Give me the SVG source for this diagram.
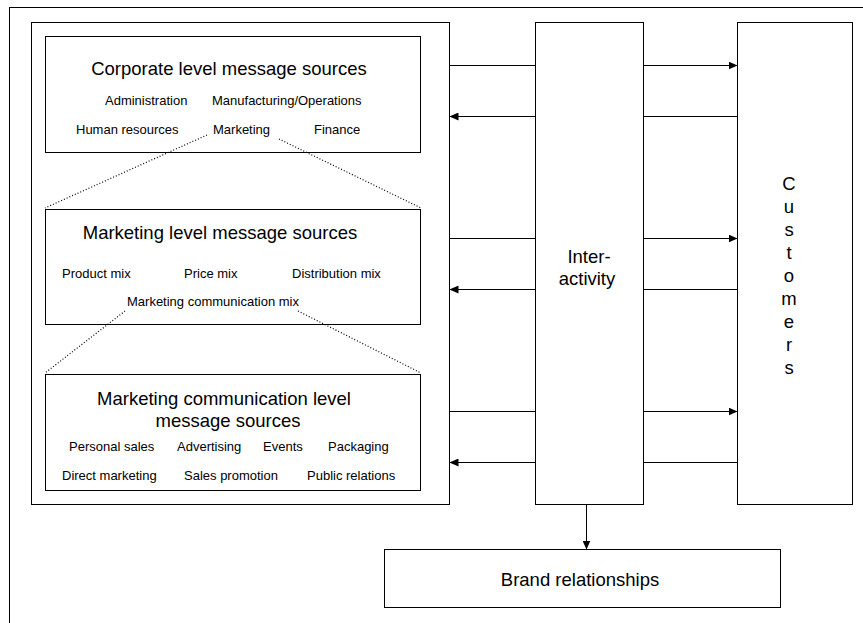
<svg xmlns="http://www.w3.org/2000/svg" width="863" height="623" viewBox="0 0 863 623">
<style>
.box{fill:#fff;stroke:#000;stroke-width:1}
.t{font-family:"Liberation Sans",Arial,sans-serif;fill:#000}
.big{font-size:18.5px}
.sm{font-size:13px}
.c{text-anchor:middle}
.ln{stroke:#000;stroke-width:1;fill:none}
.dot{stroke:#000;stroke-width:1.2;fill:none;stroke-dasharray:1 2}
</style>
<defs>
<marker id="ah" viewBox="0 0 9 8" refX="9" refY="4" markerWidth="9" markerHeight="8" markerUnits="userSpaceOnUse" orient="auto">
<path d="M0,0 L9,4 L0,8 z" fill="#000"/>
</marker>
</defs>
<rect width="863" height="623" fill="#fff"/>
<g id="frame"><rect class="box" x="9.5" y="7.5" width="880" height="640"/></g>
<g id="sources"><rect class="box" x="31.5" y="22.5" width="418" height="482"/></g>
<g id="corporate">
<rect class="box" x="45.5" y="36.5" width="375" height="116"/>
<text class="t big c" x="229" y="75">Corporate level message sources</text>
<text class="t sm" x="105" y="105">Administration</text>
<text class="t sm" x="212" y="105">Manufacturing/Operations</text>
<text class="t sm" x="76" y="134">Human resources</text>
<text class="t sm" x="213" y="134">Marketing</text>
<text class="t sm" x="314" y="134">Finance</text>
</g>
<g id="marketing">
<rect class="box" x="45.5" y="209.5" width="375" height="115"/>
<text class="t big c" x="220" y="239">Marketing level message sources</text>
<text class="t sm" x="62" y="278">Product mix</text>
<text class="t sm" x="184" y="278">Price mix</text>
<text class="t sm" x="292" y="278">Distribution mix</text>
<text class="t sm" x="127" y="306">Marketing communication mix</text>
</g>
<g id="marcom">
<rect class="box" x="45.5" y="374.5" width="375" height="116"/>
<text class="t big c" x="224" y="405">Marketing communication level</text>
<text class="t big c" x="228" y="427">message sources</text>
<text class="t sm" x="69" y="451">Personal sales</text>
<text class="t sm" x="177" y="451">Advertising</text>
<text class="t sm" x="263" y="451">Events</text>
<text class="t sm" x="328" y="451">Packaging</text>
<text class="t sm" x="62" y="480">Direct marketing</text>
<text class="t sm" x="184" y="480">Sales promotion</text>
<text class="t sm" x="307" y="480">Public relations</text>
</g>
<g id="interactivity">
<rect class="box" x="535.5" y="22.5" width="108" height="482"/>
<text class="t big c" x="589" y="263">Inter-</text>
<text class="t big c" x="587" y="285">activity</text>
</g>
<g id="customers">
<rect class="box" x="737.5" y="22.5" width="115" height="482"/>
<g class="t big c">
<text x="789" y="190">C</text>
<text x="789" y="213">u</text>
<text x="789" y="236">s</text>
<text x="789" y="259">t</text>
<text x="789" y="282">o</text>
<text x="789" y="305">m</text>
<text x="789" y="328">e</text>
<text x="789" y="351">r</text>
<text x="789" y="374">s</text>
</g>
</g>
<g id="brand">
<rect class="box" x="384.5" y="549.5" width="396" height="58"/>
<text class="t big c" x="580" y="586">Brand relationships</text>
</g>
<g id="connectors">
<path class="dot" d="M207,135 L45,208"/>
<path class="dot" d="M279,139 L421,208"/>
<path class="dot" d="M125,311 L45,373"/>
<path class="dot" d="M298,311 L421,373"/>
<path class="ln" d="M449.5,65.5 H535.5"/>
<path class="ln" d="M535.5,116.5 H449.5" marker-end="url(#ah)"/>
<path class="ln" d="M449.5,238.5 H535.5"/>
<path class="ln" d="M535.5,289.5 H449.5" marker-end="url(#ah)"/>
<path class="ln" d="M449.5,411.5 H535.5"/>
<path class="ln" d="M535.5,462.5 H449.5" marker-end="url(#ah)"/>
<path class="ln" d="M643.5,65.5 H737.5" marker-end="url(#ah)"/>
<path class="ln" d="M737.5,116.5 H643.5"/>
<path class="ln" d="M643.5,238.5 H737.5" marker-end="url(#ah)"/>
<path class="ln" d="M737.5,289.5 H643.5"/>
<path class="ln" d="M643.5,411.5 H737.5" marker-end="url(#ah)"/>
<path class="ln" d="M737.5,462.5 H643.5"/>
<path class="ln" d="M586.5,504.5 V549.5" marker-end="url(#ah)"/>
</g>
</svg>
